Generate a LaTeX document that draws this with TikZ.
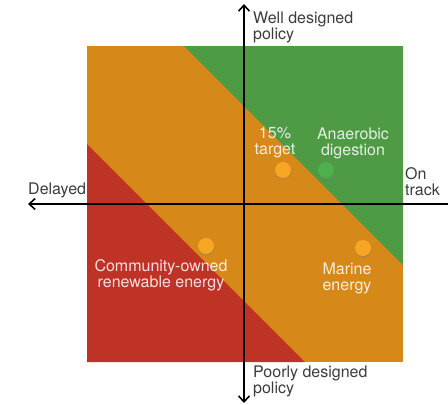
\documentclass[tikz,border=0pt]{standalone}
\usepackage{fontspec}
\setmainfont{TeX Gyre Heros}
\usetikzlibrary{arrows.meta,shadows}
\definecolor{zoneorange}{RGB}{214,136,24}
\definecolor{zonegreen}{RGB}{78,154,69}
\definecolor{zonered}{RGB}{191,50,38}
\definecolor{dotorange}{RGB}{246,166,35}
\definecolor{dotgreen}{RGB}{77,176,74}
\definecolor{axistext}{RGB}{60,60,60}
\begin{document}
\begin{tikzpicture}[x=1pt, y=-1pt,
  axis/.style={line width=2.5pt, black, >={Straight Barb[length=6pt,width=11pt,line width=1.6pt]}},
  axislabel/.style={text=axistext, align=left, inner sep=0, font=\fontsize{16}{16}\selectfont},
  zonetext/.style={text=white, text opacity=0.85, align=center, inner sep=0, font=\fontsize{16}{16}\selectfont},
  dot/.style={circle, minimum size=16pt, inner sep=0, drop shadow={shadow xshift=0.5pt, shadow yshift=-1.5pt, opacity=0.35}}]
  \useasboundingbox (0,0) rectangle (448,405);
  % the three zones
  \fill[zoneorange] (87,46) rectangle (403,362);
  \fill[zonegreen] (184,46) -- (403,46) -- (403,265) -- cycle;
  \fill[zonered] (87,144) -- (87,362) -- (305,362) -- cycle;
  % axes
  \coordinate (top) at (244,4);
  \coordinate (bottom) at (244,403);
  \coordinate (left) at (28,204);
  \coordinate (right) at (448,204);
  \draw[axis,<->] (bottom) -- (top);
  \draw[axis,<-] (left) -- (right);
  \node[axislabel, anchor=west] (well) at (253,27) {Well designed\\policy};
  \node[axislabel, anchor=west] (poorly) at (253,381.5) {Poorly designed\\policy};
  \node[axislabel, anchor=west] (delayed) at (28,190.5) {Delayed};
  \node[axislabel, anchor=west] (ontrack) at (405,181.5) {On\\track};
  % measures
  \node[dot, fill=dotorange] (target) at (283,170) {};
  \node[dot, fill=dotgreen] (anaerobic) at (326,170) {};
  \node[dot, fill=dotorange] (community) at (206,246) {};
  \node[dot, fill=dotorange] (marine) at (363,248) {};
  \node[zonetext] (targetlabel) at (275,142.5) {15\%\\target};
  \node[zonetext] (anaerobiclabel) at (353,143) {Anaerobic\\digestion};
  \node[zonetext] (communitylabel) at (161,275.5) {Community-owned\\renewable energy};
  \node[zonetext] (marinelabel) at (347,278.5) {Marine\\energy};
\end{tikzpicture}
\end{document}
